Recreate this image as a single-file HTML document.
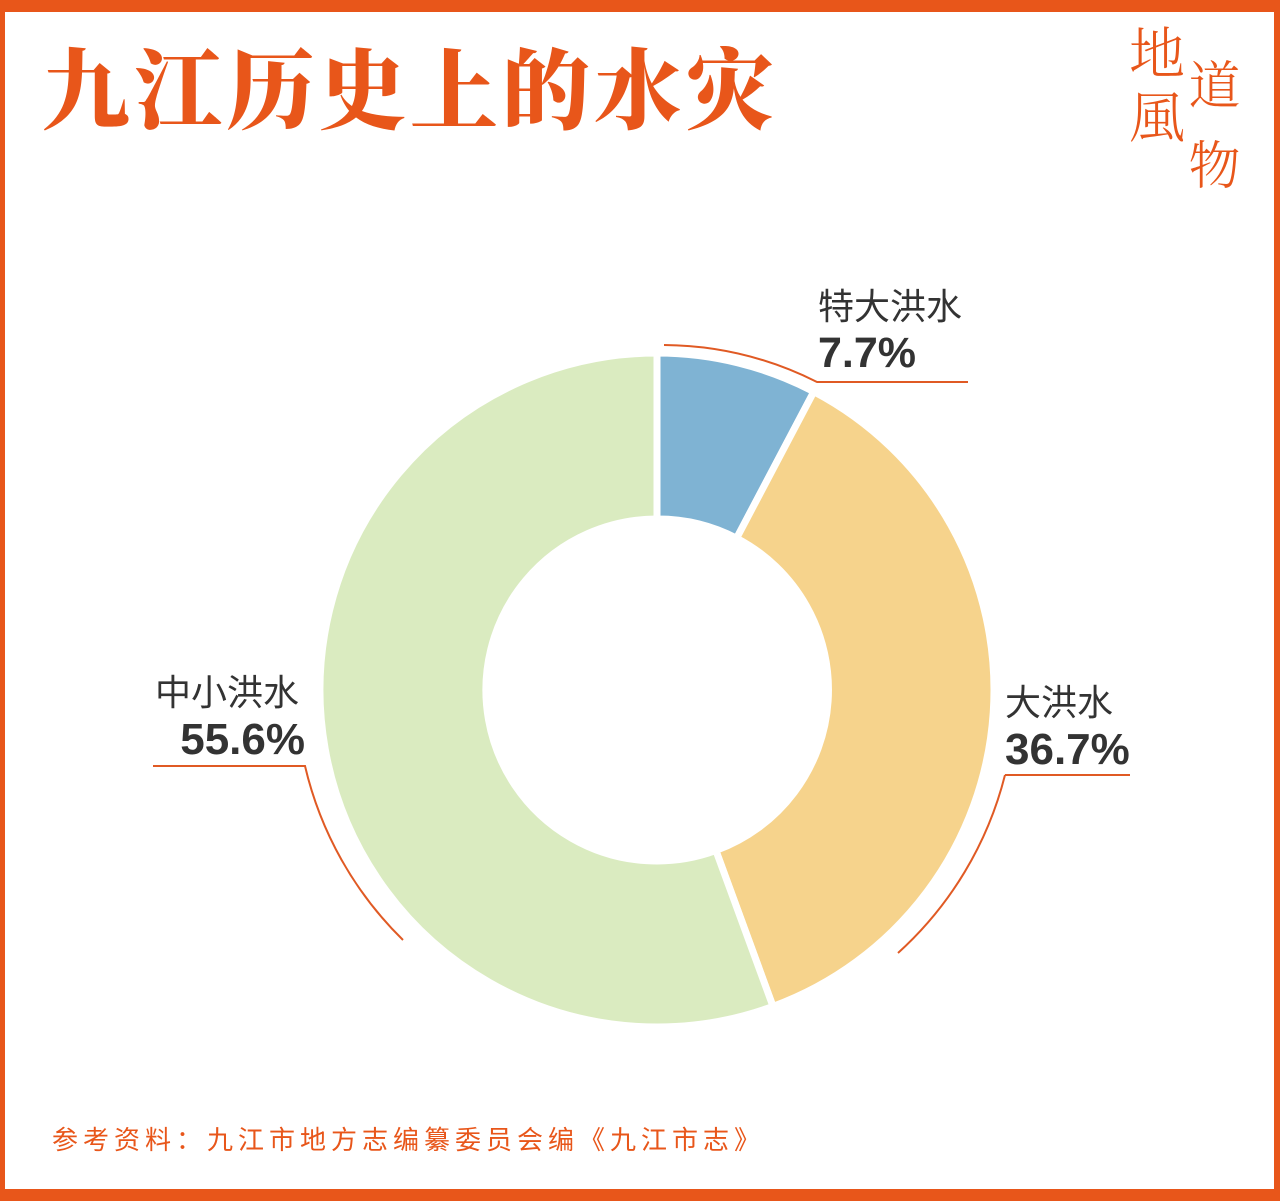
<!DOCTYPE html>
<html><head><meta charset="utf-8"><style>
html,body{margin:0;padding:0;}
body{width:1280px;height:1201px;position:relative;background:#E8561A;overflow:hidden;font-family:"Liberation Sans","Noto Sans CJK SC",sans-serif;}
.inner{position:absolute;left:5px;top:12px;right:6px;bottom:12px;background:#fff;}
.t{position:absolute;white-space:nowrap;}
</style></head><body>
<div class="inner"></div>
<div class="t" style="left:42px;top:30px;font-family:'Noto Serif CJK SC',serif;font-weight:900;font-size:88px;color:#E8561A;letter-spacing:4px;line-height:110px;">九江历史上的水灾</div>
<div class="t" style="left:1128px;top:24px;font-family:'Noto Serif CJK SC',serif;font-weight:300;font-size:56px;color:#E8561A;writing-mode:vertical-rl;line-height:58px;letter-spacing:8px;">地風</div>
<div class="t" style="left:1186px;top:58px;font-family:'Noto Serif CJK SC',serif;font-weight:300;font-size:52px;color:#E8561A;writing-mode:vertical-rl;line-height:56px;letter-spacing:28px;">道物</div>
<svg width="1280" height="1201" style="position:absolute;left:0;top:0">
<g stroke="#fff" stroke-width="7" stroke-linejoin="miter">
<path d="M657,353 A337,337 0 0 1 813.8,391.7 L736.6,538.2 A171,171 0 0 0 657,519 Z" fill="#7FB3D3"/>
<path d="M813.8,391.7 A337,337 0 0 1 773.0,1006.4 L715.9,850.5 A171,171 0 0 0 736.6,538.2 Z" fill="#F6D38C"/>
<path d="M773.0,1006.4 A337,337 0 1 1 657,353 L657,519 A171,171 0 1 0 715.9,850.5 Z" fill="#DAEBC0"/>
</g>
<g fill="none" stroke="#E05A24" stroke-width="2">
<path d="M664,345 A346,346 0 0 1 817,382 L968,382"/>
<path d="M1005,775 L1130,775 M1005,775 A358,358 0 0 1 898,953"/>
<path d="M153,766 L305,766 A358,358 0 0 0 403,940"/>
</g>
</svg>
<div class="t" style="left:818px;top:278px;font-size:36px;color:#333;">特大洪水</div>
<div class="t" style="left:818px;top:329px;font-size:43px;font-weight:bold;color:#333;">7.7%</div>
<div class="t" style="left:1005px;top:674px;font-size:36px;color:#333;">大洪水</div>
<div class="t" style="left:1005px;top:725px;font-size:44px;font-weight:bold;color:#333;">36.7%</div>
<div class="t" style="left:155px;top:664px;font-size:36px;color:#333;">中小洪水</div>
<div class="t" style="right:975px;top:715px;font-size:44px;font-weight:bold;color:#333;">55.6%</div>
<div class="t" style="left:52px;top:1120px;font-size:26px;color:#E8561A;letter-spacing:5px;">参考资料：九江市地方志编纂委员会编《九江市志》</div>
</body></html>
